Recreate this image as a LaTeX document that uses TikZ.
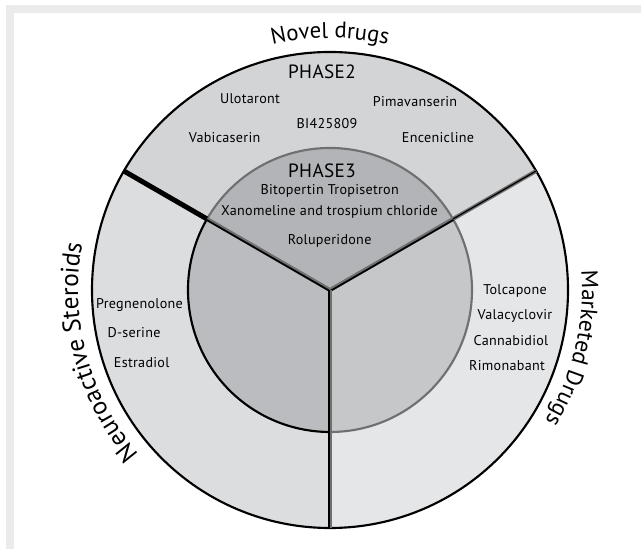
\documentclass[tikz,border=0pt]{standalone}
\usepackage{fontspec}
\setmainfont{PT Sans}
\newfontfamily\drugfamily[LetterSpace=2]{PT Sans}
\newfontfamily\phasefamily[LetterSpace=2]{PT Sans}
\usetikzlibrary{decorations.text}
\definecolor{frameband}{RGB}{235,235,235}
\definecolor{ringTop}{RGB}{211,212,214}
\definecolor{ringLeft}{RGB}{220,221,223}
\definecolor{ringRight}{RGB}{229,230,232}
\definecolor{innTop}{RGB}{178,180,183}
\definecolor{innLeft}{RGB}{187,188,191}
\definecolor{innRight}{RGB}{198,199,201}
\definecolor{edgegray}{RGB}{112,112,112}
\newcommand{\toplblfont}{\fontsize{17pt}{19pt}\selectfont}
\newcommand{\sidelblfont}{\fontsize{19pt}{21pt}\selectfont}
\newcommand{\marklblfont}{\fontsize{17.5pt}{20pt}\selectfont}
\begin{document}
\begin{tikzpicture}[x=0.75pt,y=0.75pt,
  drug/.style={font=\drugfamily\fontsize{10.6pt}{12pt}\selectfont, anchor=base, inner sep=0pt, text=black},
  phase/.style={font=\phasefamily\fontsize{14.4pt}{16pt}\selectfont, anchor=base, inner sep=0pt},
  outline/.style={line width=1.6pt},
  grayedge/.style={draw=edgegray, line width=1.6pt}]
\useasboundingbox (0,0) rectangle (641,549);
% frame bands
\fill[frameband] (6,536) rectangle (641,544.3);
\fill[frameband] (6,0) rectangle (14,544.3);
% key coordinates
\coordinate (C) at (330,259);
\path (C) ++(150:142) coordinate (ulIn);
\path (C) ++(150:238) coordinate (ulOut);
\path (C) ++(30:142) coordinate (urIn);
\path (C) ++(30:238) coordinate (urOut);
\path (C) ++(270:142) coordinate (bIn);
\path (C) ++(270:238) coordinate (bOut);
\path (C) ++(120:252) coordinate (novA);
\path (C) ++(225:252) coordinate (neuA);
\path (C) ++(16.5:252) coordinate (marA);
% outer sectors
\fill[ringTop] (C) -- (urOut) arc[start angle=30,end angle=150,radius=238] -- cycle;
\fill[ringLeft] (C) -- (ulOut) arc[start angle=150,end angle=270,radius=238] -- cycle;
\fill[ringRight] (C) -- (bOut) arc[start angle=270,end angle=390,radius=238] -- cycle;
% inner sectors
\fill[innTop] (C) -- (urIn) arc[start angle=30,end angle=150,radius=142] -- cycle;
\fill[innLeft] (C) -- (ulIn) arc[start angle=150,end angle=270,radius=142] -- cycle;
\fill[innRight] (C) -- (bIn) arc[start angle=270,end angle=390,radius=142] -- cycle;
% inner circle arcs
\draw[grayedge] (urIn) arc[start angle=30,end angle=150,radius=142];
\draw[outline] (ulIn) arc[start angle=150,end angle=270,radius=142];
\draw[grayedge] (bIn) arc[start angle=270,end angle=390,radius=142];
% outer circle
\draw[outline] (C) circle[radius=238];
% dividers
\draw[line width=3.75pt] (ulIn) -- (ulOut);
\draw[draw=edgegray, line width=3pt] (urIn) -- (urOut);
\draw[line width=0.9pt] (urIn) -- (urOut);
\draw[draw=edgegray, line width=3pt] (C) -- (ulIn);
\draw[line width=1.3pt] ([shift={(240:1)}]C) -- ([shift={(240:1)}]ulIn);
\draw[draw=edgegray, line width=3pt] (C) -- (urIn);
\draw[line width=1.3pt] ([shift={(-60:1)}]C) -- ([shift={(-60:1)}]urIn);
\draw[draw=edgegray, line width=1.5pt] ([xshift=1]C) -- ([xshift=1]bOut);
\draw[line width=1.5pt] ([xshift=-1]C) -- ([xshift=-1]bOut);
% curved labels
\path[decorate, decoration={text along path, text={|\toplblfont|Novel drugs}, text align=center}]
  (novA) arc[start angle=120,end angle=60,radius=252];
\path[decorate, decoration={text along path, text={|\sidelblfont|Neuroactive Steroids}, text align=center}]
  (neuA) arc[start angle=225,end angle=165,radius=252];
\path[decorate, decoration={text along path, text={|\marklblfont|Marketed Drugs}, text align=center}]
  (marA) arc[start angle=16.5,end angle=-43.5,radius=252];
% phase titles
\node[phase] (p2) at (322,470) {PHASE2};
\node[phase] (p3) at (322,371.7) {PHASE3};
% phase 2 drugs
\node[drug] (ulo) at (250,445) {Ulotaront};
\node[drug] (pim) at (415,442.3) {Pimavanserin};
\node[drug] (bi) at (327,420.7) {BI425809};
\node[drug] (vab) at (224.6,406.7) {Vabicaserin};
\node[drug] (enc) at (438,406.7) {Encenicline};
% phase 3 drugs
\node[drug] (bit) at (329.7,354) {Bitopertin Tropisetron};
\node[drug] (xan) at (329.5,333) {Xanomeline and trospium chloride};
\node[drug] (rol) at (329.6,304.5) {Roluperidone};
% marketed
\node[drug] (tol) at (515,254) {Tolcapone};
\node[drug] (val) at (515,229) {Valacyclovir};
\node[drug] (can) at (511,203.5) {Cannabidiol};
\node[drug] (rim) at (507,178) {Rimonabant};
% neuroactive
\node[drug] (pre) at (139.5,240.5) {Pregnenolone};
\node[drug] (dse) at (134,211.5) {D-serine};
\node[drug] (est) at (141.7,181) {Estradiol};
\end{tikzpicture}
\end{document}
